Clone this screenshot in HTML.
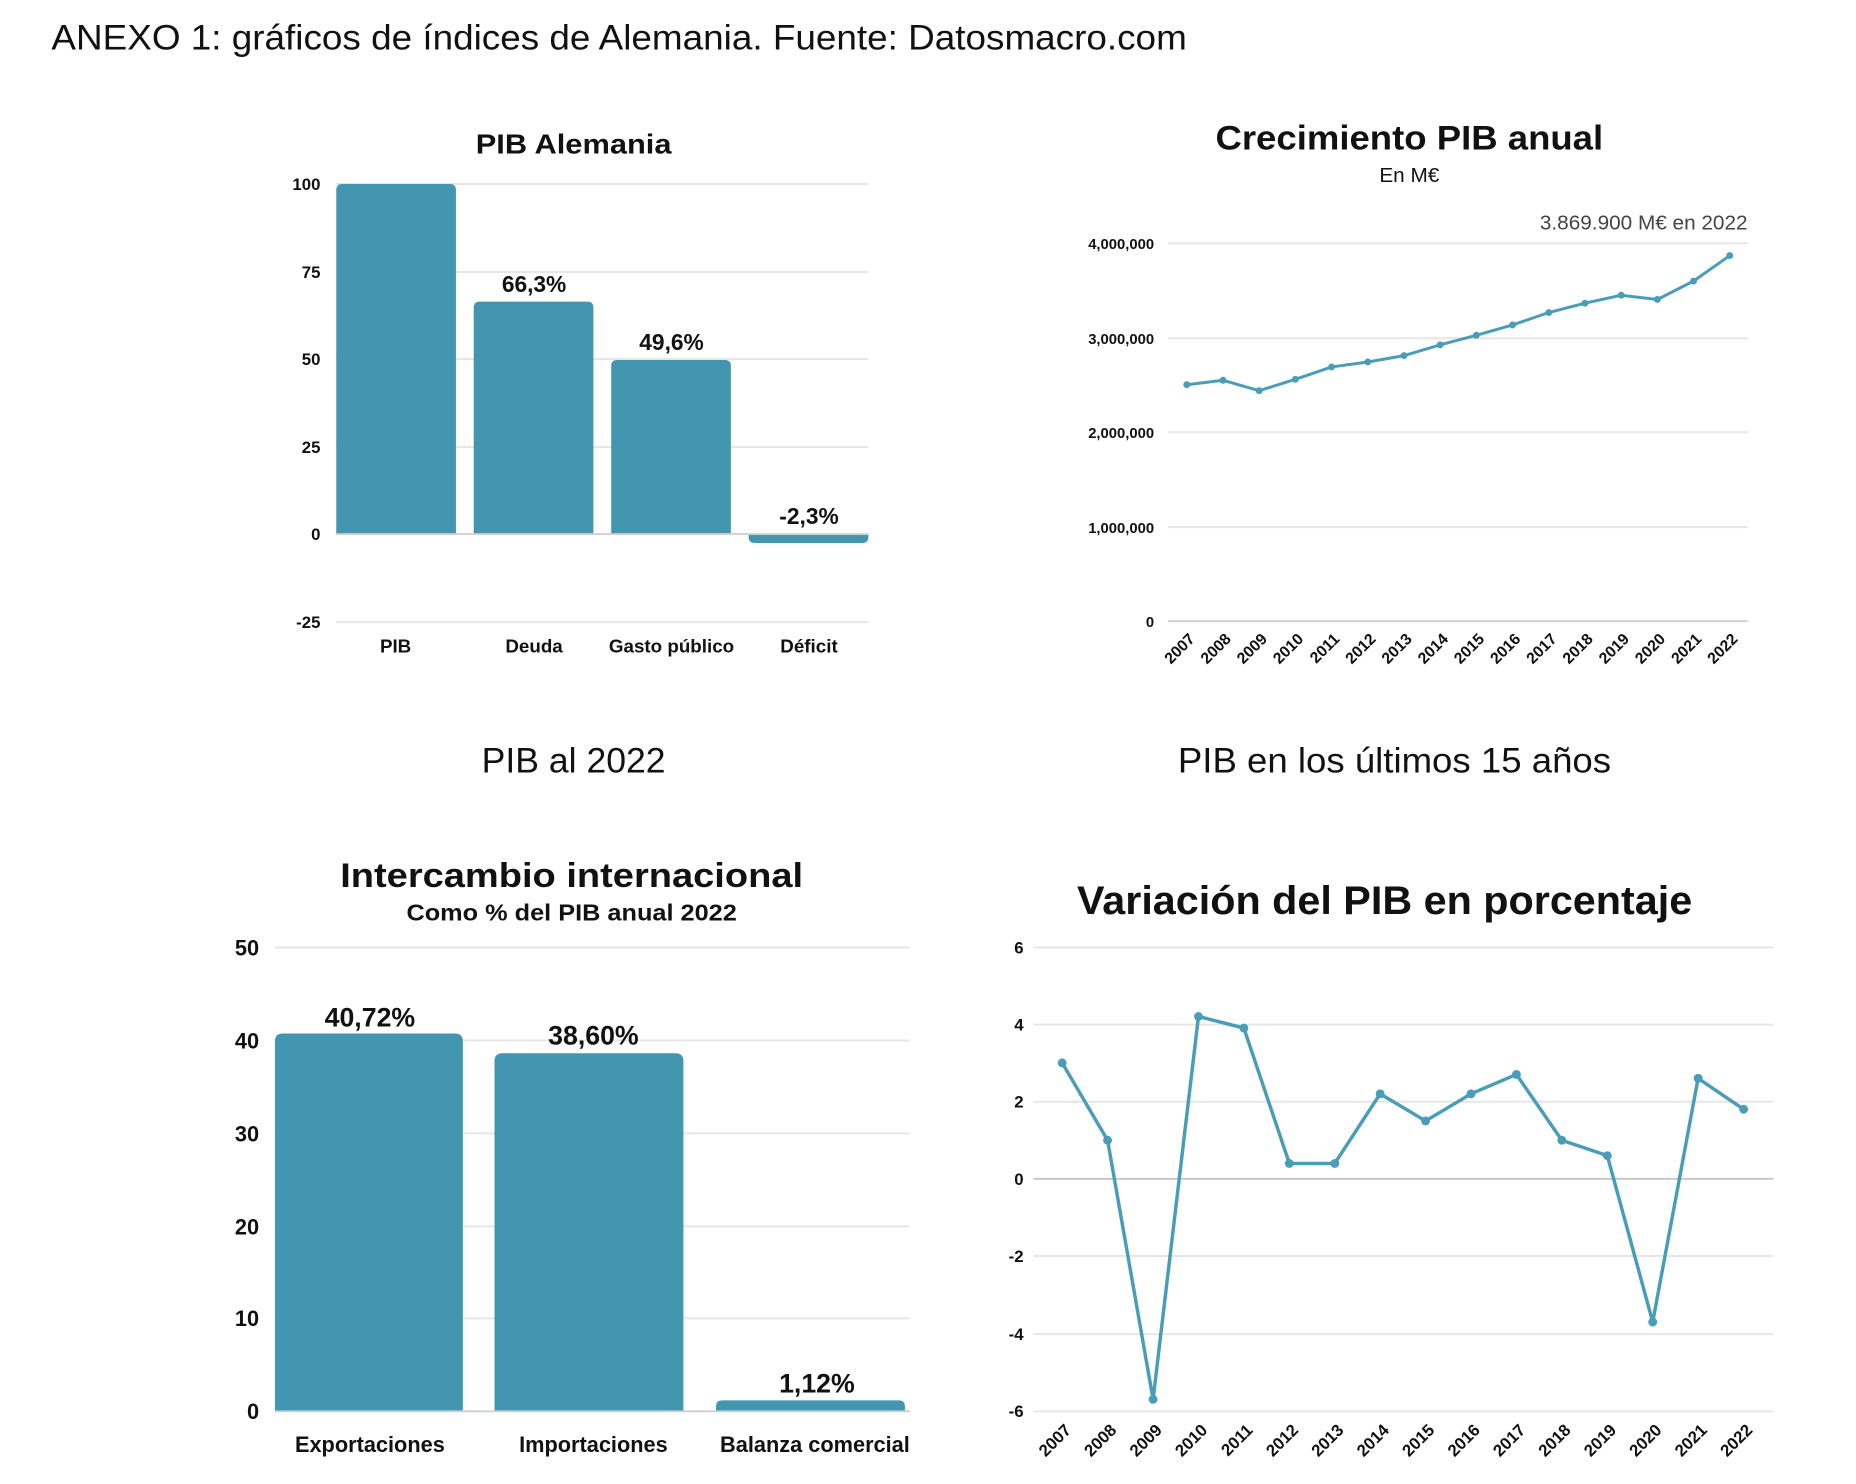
<!DOCTYPE html>
<html><head><meta charset="utf-8"><style>
html,body{margin:0;padding:0;background:#fff;}
svg{display:block;}
text{font-family:"Liberation Sans",sans-serif;fill:#111;}
.b{font-weight:bold;}
</style></head><body>
<svg width="1856" height="1484" viewBox="0 0 1856 1484" xmlns="http://www.w3.org/2000/svg">
<g transform="scale(0.989)">
<text x="52" y="50" font-size="36" textLength="1148" lengthAdjust="spacingAndGlyphs">ANEXO 1: gráficos de índices de Alemania. Fuente: Datosmacro.com</text>

<!-- Chart 1 -->
<text x="580" y="155" font-size="28" class="b" text-anchor="middle" textLength="198" lengthAdjust="spacingAndGlyphs">PIB Alemania</text>
<g stroke="#e6e6e6" stroke-width="2">
<line x1="340" y1="186" x2="878" y2="186"/><line x1="340" y1="275" x2="878" y2="275"/>
<line x1="340" y1="363" x2="878" y2="363"/><line x1="340" y1="452" x2="878" y2="452"/>
<line x1="340" y1="629" x2="878" y2="629"/>
</g>
<g font-size="17" class="b" text-anchor="end">
<text x="324" y="192" class="b">100</text><text x="324" y="281" class="b">75</text>
<text x="324" y="369" class="b">50</text><text x="324" y="458" class="b">25</text>
<text x="324" y="546" class="b">0</text><text x="324" y="635" class="b">-25</text>
</g>
<g fill="#4396b0">
<path d="M340 540V192q0-6 6-6h109q6 0 6 6V540z"/>
<path d="M479 540V311q0-6 6-6h109q6 0 6 6V540z"/>
<path d="M618 540V370q0-6 6-6h109q6 0 6 6V540z"/>
<path d="M757 540V543q0 6 6 6h109q6 0 6-6V540z"/>
</g>
<line x1="340" y1="540" x2="878" y2="540" stroke="#d0d0d0" stroke-width="2"/>
<g font-size="23" class="b" text-anchor="middle">
<text x="540" y="295" class="b">66,3%</text><text x="679" y="354" class="b">49,6%</text><text x="818" y="530" class="b">-2,3%</text>
</g>
<g font-size="19" class="b" text-anchor="middle">
<text x="400" y="660" class="b">PIB</text><text x="540" y="660" class="b">Deuda</text>
<text x="679" y="660" class="b">Gasto público</text><text x="818" y="660" class="b">Déficit</text>
</g>

<!-- Chart 2 -->
<text x="1425" y="151" font-size="35" class="b" text-anchor="middle" textLength="392" lengthAdjust="spacingAndGlyphs">Crecimiento PIB anual</text>
<text x="1425" y="184" font-size="21" text-anchor="middle">En M€</text>
<text x="1767" y="232" font-size="21" text-anchor="end" style="fill:#444">3.869.900 M€ en 2022</text>
<g stroke="#e6e6e6" stroke-width="2">
<line x1="1181" y1="246" x2="1767" y2="246"/><line x1="1181" y1="342" x2="1767" y2="342"/>
<line x1="1181" y1="437" x2="1767" y2="437"/><line x1="1181" y1="533" x2="1767" y2="533"/>
</g>
<line x1="1181" y1="628" x2="1767" y2="628" stroke="#cfcfcf" stroke-width="2"/>
<g font-size="15" class="b" text-anchor="end">
<text x="1167" y="252" class="b">4,000,000</text><text x="1167" y="348" class="b">3,000,000</text>
<text x="1167" y="443" class="b">2,000,000</text><text x="1167" y="539" class="b">1,000,000</text>
<text x="1167" y="634" class="b">0</text>
</g>
<polyline fill="none" stroke="#4a9db8" stroke-width="3" points="1200,389 1236.6,384.5 1273.2,395 1309.8,383.5 1346.4,371 1383,366 1419.6,359.6 1456.2,348.7 1492.8,339 1529.4,328.6 1566,316 1602.6,306.6 1639.2,298.5 1675.8,302.8 1712.4,284.2 1749,258.4"/>
<g fill="#4a9db8">
<circle cx="1200" cy="389" r="3.5"/><circle cx="1236.6" cy="384.5" r="3.5"/><circle cx="1273.2" cy="395" r="3.5"/><circle cx="1309.8" cy="383.5" r="3.5"/><circle cx="1346.4" cy="371" r="3.5"/><circle cx="1383" cy="366" r="3.5"/><circle cx="1419.6" cy="359.6" r="3.5"/><circle cx="1456.2" cy="348.7" r="3.5"/><circle cx="1492.8" cy="339" r="3.5"/><circle cx="1529.4" cy="328.6" r="3.5"/><circle cx="1566" cy="316" r="3.5"/><circle cx="1602.6" cy="306.6" r="3.5"/><circle cx="1639.2" cy="298.5" r="3.5"/><circle cx="1675.8" cy="302.8" r="3.5"/><circle cx="1712.4" cy="284.2" r="3.5"/><circle cx="1749" cy="258.4" r="3.5"/>
</g>
<g font-size="16" class="b" text-anchor="end">
<text class="b" transform="translate(1209,647) rotate(-45)">2007</text>
<text class="b" transform="translate(1245.6,647) rotate(-45)">2008</text>
<text class="b" transform="translate(1282.2,647) rotate(-45)">2009</text>
<text class="b" transform="translate(1318.8,647) rotate(-45)">2010</text>
<text class="b" transform="translate(1355.4,647) rotate(-45)">2011</text>
<text class="b" transform="translate(1392,647) rotate(-45)">2012</text>
<text class="b" transform="translate(1428.6,647) rotate(-45)">2013</text>
<text class="b" transform="translate(1465.2,647) rotate(-45)">2014</text>
<text class="b" transform="translate(1501.8,647) rotate(-45)">2015</text>
<text class="b" transform="translate(1538.4,647) rotate(-45)">2016</text>
<text class="b" transform="translate(1575,647) rotate(-45)">2017</text>
<text class="b" transform="translate(1611.6,647) rotate(-45)">2018</text>
<text class="b" transform="translate(1648.2,647) rotate(-45)">2019</text>
<text class="b" transform="translate(1684.8,647) rotate(-45)">2020</text>
<text class="b" transform="translate(1721.4,647) rotate(-45)">2021</text>
<text class="b" transform="translate(1758,647) rotate(-45)">2022</text>
</g>

<!-- Captions -->
<text x="580" y="781" font-size="36" text-anchor="middle" textLength="186" lengthAdjust="spacingAndGlyphs">PIB al 2022</text>
<text x="1410" y="781" font-size="36" text-anchor="middle" textLength="438" lengthAdjust="spacingAndGlyphs">PIB en los últimos 15 años</text>

<!-- Chart 3 -->
<g transform="translate(0,3)">
<text x="578" y="894" font-size="35" class="b" text-anchor="middle" textLength="468" lengthAdjust="spacingAndGlyphs">Intercambio internacional</text>
<text x="578" y="928" font-size="23" class="b" text-anchor="middle" textLength="334" lengthAdjust="spacingAndGlyphs">Como % del PIB anual 2022</text>
<g stroke="#e6e6e6" stroke-width="2">
<line x1="278" y1="955" x2="920" y2="955"/><line x1="278" y1="1049" x2="920" y2="1049"/>
<line x1="278" y1="1143" x2="920" y2="1143"/><line x1="278" y1="1237" x2="920" y2="1237"/>
<line x1="278" y1="1330" x2="920" y2="1330"/>
</g>
<g font-size="22" class="b" text-anchor="end">
<text x="262" y="963" class="b">50</text><text x="262" y="1057" class="b">40</text>
<text x="262" y="1151" class="b">30</text><text x="262" y="1245" class="b">20</text>
<text x="262" y="1338" class="b">10</text><text x="262" y="1432" class="b">0</text>
</g>
<g fill="#4396b0">
<path d="M278 1424V1050q0-8 8-8h174q8 0 8 8V1424z"/>
<path d="M500 1424V1070q0-8 8-8h175q8 0 8 8V1424z"/>
<path d="M724 1424V1419q0-6 6-6h179q6 0 6 6V1424z"/>
</g>
<line x1="278" y1="1424" x2="920" y2="1424" stroke="#cfcfcf" stroke-width="2"/>
<g font-size="27" class="b" text-anchor="middle">
<text x="374" y="1035" class="b">40,72%</text><text x="600" y="1053" class="b">38,60%</text><text x="826" y="1405" class="b">1,12%</text>
</g>
<g font-size="22" class="b" text-anchor="middle">
<text x="374" y="1465" class="b">Exportaciones</text><text x="600" y="1465" class="b">Importaciones</text><text x="824" y="1465" class="b">Balanza comercial</text>
</g>
</g>

<!-- Chart 4 -->
<g transform="translate(5,4)">
<text x="1395" y="920" font-size="40" class="b" text-anchor="middle" textLength="622" lengthAdjust="spacingAndGlyphs">Variación del PIB en porcentaje</text>
<g stroke="#e6e6e6" stroke-width="2">
<line x1="1040" y1="954" x2="1788" y2="954"/><line x1="1040" y1="1032" x2="1788" y2="1032"/>
<line x1="1040" y1="1110" x2="1788" y2="1110"/><line x1="1040" y1="1266" x2="1788" y2="1266"/>
<line x1="1040" y1="1345" x2="1788" y2="1345"/><line x1="1040" y1="1423" x2="1788" y2="1423"/>
</g>
<line x1="1040" y1="1188" x2="1788" y2="1188" stroke="#c8c8c8" stroke-width="2"/>
<g font-size="17" class="b" text-anchor="end">
<text x="1030" y="960" class="b">6</text><text x="1030" y="1038" class="b">4</text>
<text x="1030" y="1116" class="b">2</text><text x="1030" y="1194" class="b">0</text>
<text x="1030" y="1272" class="b">-2</text><text x="1030" y="1351" class="b">-4</text>
<text x="1030" y="1429" class="b">-6</text>
</g>
<polyline fill="none" stroke="#4a9db8" stroke-width="3.5" stroke-linejoin="round" points="1069,1070.7 1114.9,1148.9 1160.9,1410.9 1206.8,1023.8 1252.7,1035.5 1298.7,1172.4 1344.6,1172.4 1390.5,1102 1436.4,1129.4 1482.4,1102 1528.3,1082.4 1574.2,1148.9 1620.2,1164.5 1666.1,1332.7 1712,1086.3 1758,1117.6"/>
<g fill="#4a9db8">
<circle cx="1069" cy="1070.7" r="4.5"/><circle cx="1114.9" cy="1148.9" r="4.5"/><circle cx="1160.9" cy="1410.9" r="4.5"/><circle cx="1206.8" cy="1023.8" r="4.5"/><circle cx="1252.7" cy="1035.5" r="4.5"/><circle cx="1298.7" cy="1172.4" r="4.5"/><circle cx="1344.6" cy="1172.4" r="4.5"/><circle cx="1390.5" cy="1102" r="4.5"/><circle cx="1436.4" cy="1129.4" r="4.5"/><circle cx="1482.4" cy="1102" r="4.5"/><circle cx="1528.3" cy="1082.4" r="4.5"/><circle cx="1574.2" cy="1148.9" r="4.5"/><circle cx="1620.2" cy="1164.5" r="4.5"/><circle cx="1666.1" cy="1332.7" r="4.5"/><circle cx="1712" cy="1086.3" r="4.5"/><circle cx="1758" cy="1117.6" r="4.5"/>
</g>
<g font-size="17" class="b" text-anchor="end">
<text class="b" transform="translate(1079,1443) rotate(-45)">2007</text>
<text class="b" transform="translate(1124.9,1443) rotate(-45)">2008</text>
<text class="b" transform="translate(1170.9,1443) rotate(-45)">2009</text>
<text class="b" transform="translate(1216.8,1443) rotate(-45)">2010</text>
<text class="b" transform="translate(1262.7,1443) rotate(-45)">2011</text>
<text class="b" transform="translate(1308.7,1443) rotate(-45)">2012</text>
<text class="b" transform="translate(1354.6,1443) rotate(-45)">2013</text>
<text class="b" transform="translate(1400.5,1443) rotate(-45)">2014</text>
<text class="b" transform="translate(1446.4,1443) rotate(-45)">2015</text>
<text class="b" transform="translate(1492.4,1443) rotate(-45)">2016</text>
<text class="b" transform="translate(1538.3,1443) rotate(-45)">2017</text>
<text class="b" transform="translate(1584.2,1443) rotate(-45)">2018</text>
<text class="b" transform="translate(1630.2,1443) rotate(-45)">2019</text>
<text class="b" transform="translate(1676.1,1443) rotate(-45)">2020</text>
<text class="b" transform="translate(1722,1443) rotate(-45)">2021</text>
<text class="b" transform="translate(1768,1443) rotate(-45)">2022</text>
</g>
</g>
</g>
</svg>
</body></html>
